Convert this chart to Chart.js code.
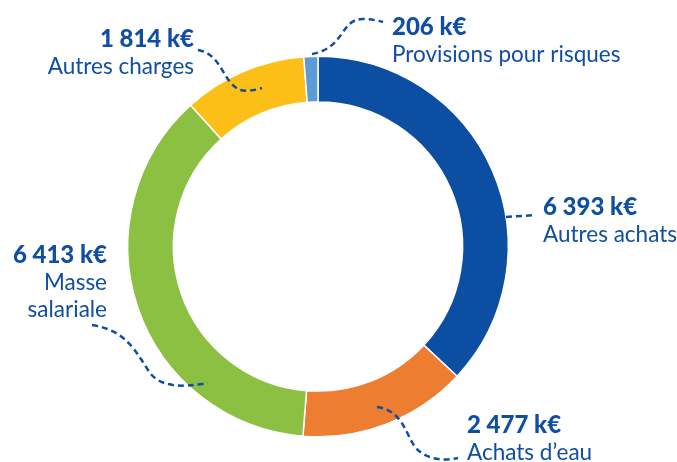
<!DOCTYPE html>
<html lang="fr">
<head>
<meta charset="utf-8">
<script src="https://cdn.jsdelivr.net/npm/chart.js@4.4.1/dist/chart.umd.min.js"></script>
<style>
  html, body { margin: 0; padding: 0; background: #ffffff; }
  #wrap { width: 677px; height: 462px; }
</style>
</head>
<body>
<div id="wrap"><canvas id="chargesChart" width="677" height="462"></canvas></div>
<script>
        // Répartition des charges (k€), dans l'ordre horaire depuis le haut
        const categories = ['Autres achats', 'Achats d\u2019eau', 'Masse salariale', 'Autres charges', 'Provisions pour risques'];
        const valeurs = [6393, 2477, 6413, 1814, 206];
        const valeurLabels = ['6 393 k€', '2 477 k€', '6 413 k€', '1 814 k€', '206 k€'];
        const couleurs = ['#0b4ea2', '#ec7d31', '#8cc043', '#fcbf17', '#5d9bd5'];

        const bleuTexte = '#0f4ea3';

        // Position des étiquettes (x, y de la première ligne, alignement)
        const etiquettes = [
            { x: 543, y: 215, align: 'left', lignes: ['Autres achats'] },
            { x: 467, y: 433, align: 'left', lignes: ['Achats d\u2019eau'] },
            { x: 107, y: 263, align: 'right', lignes: ['Masse', 'salariale'] },
            { x: 194, y: 47, align: 'right', lignes: ['Autres charges'] },
            { x: 392, y: 35, align: 'left', lignes: ['Provisions pour risques'] }
        ];

        function tracerRenvois(ctx) {
            ctx.beginPath();
            // Autres achats
            ctx.moveTo(506, 217);
            ctx.lineTo(536, 215);
            // Achats d'eau
            ctx.moveTo(377, 407);
            ctx.bezierCurveTo(400, 410, 405, 430, 412, 442);
            ctx.bezierCurveTo(420, 458, 440, 462, 458, 458);
            // Masse salariale
            ctx.moveTo(92, 325);
            ctx.bezierCurveTo(125, 330, 135, 350, 148, 370);
            ctx.bezierCurveTo(158, 387, 180, 388, 208, 383);
            // Autres charges
            ctx.moveTo(198, 50);
            ctx.bezierCurveTo(222, 54, 222, 82, 240, 90);
            ctx.quadraticCurveTo(250, 92, 262, 88);
            // Provisions
            ctx.moveTo(312, 54);
            ctx.bezierCurveTo(345, 48, 340, 20, 362, 19);
            ctx.quadraticCurveTo(372, 19, 383, 22);
            ctx.stroke();
        }

        const etiquettesPlugin = {
            id: 'etiquettes',
            afterDraw(chart) {
                const ctx = chart.ctx;
                ctx.save();
                ctx.strokeStyle = bleuTexte;
                ctx.lineWidth = 2.5;
                ctx.setLineDash([6, 4]);
                tracerRenvois(ctx);
                ctx.setLineDash([]);

                ctx.fillStyle = bleuTexte;
                ctx.textBaseline = 'alphabetic';
                etiquettes.forEach((e, i) => {
                    ctx.textAlign = e.align;
                    ctx.font = '900 24px Lato';
                    ctx.fillText(valeurLabels[i], e.x, e.y);
                    ctx.font = '22.5px Lato';
                    e.lignes.forEach((l, j) => {
                        ctx.fillText(l, e.x, e.y + 27 * (j + 1));
                    });
                });
                ctx.restore();
            }
        };

        const ctx = document.getElementById('chargesChart').getContext('2d');
        const chargesChart = new Chart(ctx, {
            type: 'doughnut',
            data: {
                labels: categories,
                datasets: [{
                    label: 'Charges',
                    data: valeurs,
                    backgroundColor: couleurs,
                    borderColor: '#ffffff',
                    borderWidth: 1.5
                }]
            },
            options: {
                responsive: false,
                animation: false,
                cutout: '76%',
                layout: {
                    padding: { top: 55, bottom: 24, left: 127, right: 168 }
                },
                plugins: {
                    legend: { display: false },
                    tooltip: { enabled: false }
                }
            },
            plugins: [etiquettesPlugin]
        });
</script>
</body>
</html>
